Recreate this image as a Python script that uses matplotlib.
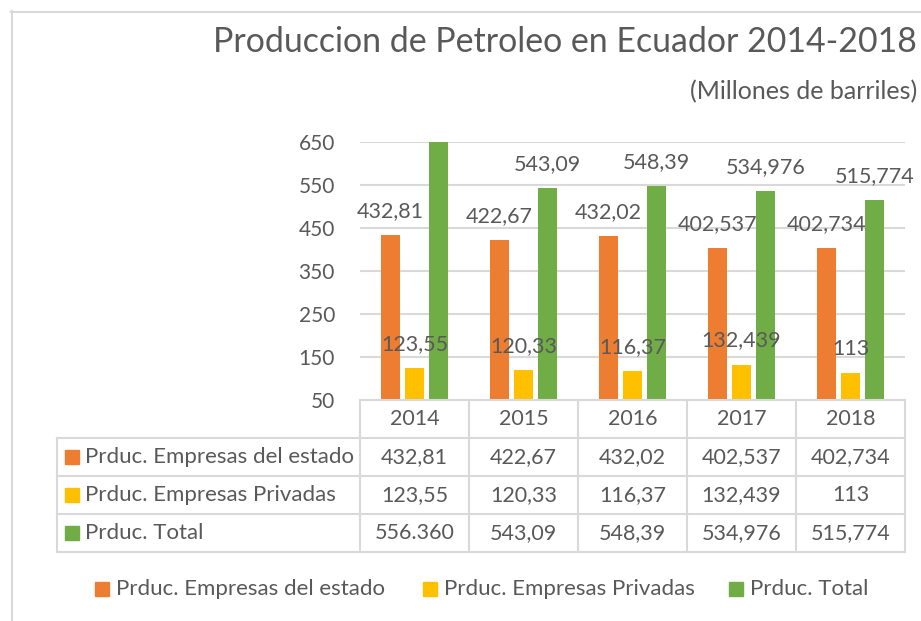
import matplotlib
matplotlib.use("Agg")
import matplotlib.pyplot as plt
import matplotlib.transforms as mtransforms
from matplotlib.patches import Rectangle
from matplotlib.lines import Line2D

plt.rcParams['font.family'] = ['Lato', 'DejaVu Sans']

# ---- data ----
years = ["2014", "2015", "2016", "2017", "2018"]
series_names = ["Prduc. Empresas del estado", "Prduc. Empresas Privadas", "Prduc. Total"]
estado = [432.81, 422.67, 432.02, 402.537, 402.734]
privadas = [123.55, 120.33, 116.37, 132.439, 113]
total = [556360, 543.09, 548.39, 534.976, 515.774]
colors = ["#ED7D31", "#FFC000", "#70AD47"]
yticks = [50, 150, 250, 350, 450, 550, 650]

title = "Produccion de Petroleo en Ecuador 2014-2018"
subtitle = "(Millones de barriles)"

TXT = "#595959"
GRID = "#D9D9D9"
W, H = 921, 621


def fx(px):
    return px / W


def fy(py):
    return 1 - py / H


def fmt(v):
    if v >= 1000:
        return f"{v:,.0f}".replace(",", ".")
    return f"{v:g}".replace(".", ",")


fig = plt.figure(figsize=(W / 100, H / 100), dpi=100)
fig.patch.set_facecolor("white")

# outer frame
fig.add_artist(Line2D([fx(11.5), fx(11.5)], [fy(11), fy(621)], color=GRID, lw=1.5, transform=fig.transFigure))
fig.add_artist(Line2D([fx(11), fx(921)], [fy(11.5), fy(11.5)], color=GRID, lw=1.5, transform=fig.transFigure))

# titles
fig.text(fx(917), fy(52), title, ha="right", va="baseline", fontsize=24.4, color=TXT)
fig.text(fx(917), fy(99), subtitle, ha="right", va="baseline", fontsize=18, color=TXT)

ax_l, ax_r, ax_t, ax_b = 360, 905, 142, 400
ax = fig.add_axes([fx(ax_l), fy(ax_b), fx(ax_r) - fx(ax_l), fy(ax_t) - fy(ax_b)])
ax.set_xlim(-0.5, len(years) - 0.5)
ax.set_ylim(50, 650)
ax.set_yticks(yticks)
ax.set_yticklabels([str(t) for t in yticks])
ax.set_xticks([])
ax.tick_params(axis="y", length=0, pad=18, labelsize=15, labelcolor=TXT)
for s in ax.spines.values():
    s.set_visible(False)
ax.grid(axis="y", color=GRID, lw=1.5)
ax.set_axisbelow(True)

bw = 0.175
offsets = [-0.22, 0.0, 0.22]
all_series = [estado, privadas, total]
for vals, off, c in zip(all_series, offsets, colors):
    xs = [i + off for i in range(len(years))]
    ax.bar(xs, [v - 50 for v in vals], bottom=50, width=bw, color=c, zorder=2)
    for x, v in zip(xs, vals):
        if v <= 650:
            ax.annotate(fmt(v), (x, v), xytext=(0, 18), textcoords="offset pixels",
                        ha="center", va="baseline", fontsize=15.5, color=TXT, zorder=3,
                        annotation_clip=False)

# ---- data table ----
blend = mtransforms.blended_transform_factory(ax.transData, fig.transFigure)
rows_y = [400, 438, 476, 514, 552]
tbl_left = 57
lw = 1.5
fig.add_artist(Line2D([-0.5, len(years) - 0.5], [fy(400), fy(400)], color=GRID, lw=lw, transform=blend))
for ry in rows_y[1:]:
    fig.add_artist(Line2D([fx(tbl_left), fx(ax_r)], [fy(ry), fy(ry)], color=GRID, lw=lw, transform=fig.transFigure))
for i in range(len(years) + 1):
    x = i - 0.5
    fig.add_artist(Line2D([x, x], [fy(400), fy(552)], color=GRID, lw=lw, transform=blend))
fig.add_artist(Line2D([fx(tbl_left), fx(tbl_left)], [fy(438), fy(552)], color=GRID, lw=lw, transform=fig.transFigure))

for i, yr in enumerate(years):
    fig.text(i, fy(419), yr, ha="center", va="center", fontsize=15.5, color=TXT, transform=blend)
for r, (name, vals, c) in enumerate(zip(series_names, all_series, colors)):
    yc = (rows_y[r + 1] + rows_y[r + 2]) / 2
    fig.add_artist(Rectangle((fx(65), fy(yc + 7)), fx(14), fy(0) - fy(14), color=c,
                             transform=fig.transFigure))
    fig.text(fx(85), fy(yc), name, ha="left", va="center", fontsize=16, color=TXT)
    for i, v in enumerate(vals):
        fig.text(i, fy(yc), fmt(v), ha="center", va="center", fontsize=15.5, color=TXT, transform=blend)

# ---- bottom legend ----
leg_x = [95, 423, 729]
leg_y = 589
for name, c, lx in zip(series_names, colors, leg_x):
    fig.add_artist(Rectangle((fx(lx), fy(leg_y + 7)), fx(14), fy(0) - fy(14), color=c,
                             transform=fig.transFigure))
    fig.text(fx(lx + 21), fy(leg_y), name, ha="left", va="center", fontsize=16, color=TXT)

fig.savefig("out.png", dpi=100, facecolor="white")
